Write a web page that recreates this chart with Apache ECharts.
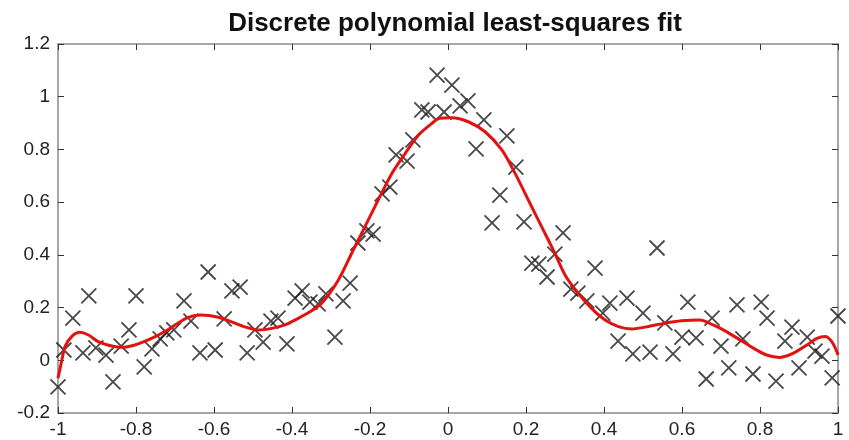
<!DOCTYPE html>
<html>
<head>
<meta charset="utf-8">
<script src="https://cdn.jsdelivr.net/npm/echarts@6/dist/echarts.min.js"></script>
<style>
  html, body { margin: 0; padding: 0; background: #fff; }
  #chart { width: 849px; height: 440px; }
</style>
</head>
<body>
<div id="chart"></div>
<script>
// sample points (x, y)
var sampleX = [-1.000, -0.985, -0.962, -0.936, -0.921, -0.903, -0.877, -0.859, -0.838, -0.818,
    -0.800, -0.779, -0.759, -0.738, -0.721, -0.703, -0.677, -0.659, -0.636, -0.615,
    -0.597, -0.574, -0.554, -0.533, -0.515, -0.495, -0.474, -0.454, -0.436, -0.413,
    -0.392, -0.374, -0.354, -0.333, -0.313, -0.290, -0.269, -0.251, -0.231, -0.208,
    -0.192, -0.169, -0.149, -0.133, -0.105, -0.090, -0.067, -0.051, -0.028, -0.010,
    0.010, 0.031, 0.051, 0.072, 0.092, 0.113, 0.133, 0.151, 0.174, 0.195,
    0.215, 0.233, 0.254, 0.274, 0.295, 0.315, 0.333, 0.356, 0.377, 0.397,
    0.415, 0.436, 0.459, 0.474, 0.500, 0.518, 0.536, 0.556, 0.577, 0.600,
    0.615, 0.636, 0.662, 0.677, 0.700, 0.720, 0.741, 0.756, 0.782, 0.803,
    0.818, 0.841, 0.864, 0.882, 0.900, 0.921, 0.941, 0.959, 0.985, 1.000];
var sampleY = [-0.101, 0.039, 0.160, 0.028, 0.244, 0.047, 0.020, -0.082, 0.054, 0.115,
    0.244, -0.025, 0.043, 0.081, 0.104, 0.115, 0.225, 0.149, 0.028, 0.335,
    0.039, 0.157, 0.263, 0.278, 0.028, 0.115, 0.069, 0.149, 0.160, 0.062,
    0.236, 0.263, 0.221, 0.214, 0.252, 0.088, 0.225, 0.293, 0.445, 0.491,
    0.479, 0.631, 0.657, 0.779, 0.756, 0.836, 0.950, 0.942, 1.082, 0.942,
    1.044, 0.965, 0.984, 0.802, 0.912, 0.521, 0.627, 0.851, 0.733, 0.525,
    0.369, 0.365, 0.316, 0.403, 0.483, 0.270, 0.255, 0.225, 0.350, 0.179,
    0.217, 0.073, 0.236, 0.024, 0.179, 0.031, 0.426, 0.142, 0.024, 0.088,
    0.221, 0.085, -0.071, 0.160, 0.054, -0.029, 0.210, 0.081, -0.052, 0.221,
    0.160, -0.079, 0.073, 0.126, -0.029, 0.088, 0.035, 0.016, -0.067, 0.168];

// fitted curve
var fitX = [-1.000, -0.990, -0.982, -0.965, -0.944, -0.922, -0.897, -0.862, -0.837, -0.803,
    -0.760, -0.726, -0.700, -0.666, -0.632, -0.589, -0.555, -0.521, -0.486, -0.452,
    -0.418, -0.384, -0.354, -0.324, -0.281, -0.247, -0.213, -0.179, -0.144, -0.110,
    -0.076, -0.042, -0.021, 0.009, 0.052, 0.095, 0.138, 0.172, 0.206, 0.240,
    0.274, 0.300, 0.334, 0.368, 0.403, 0.437, 0.471, 0.514, 0.556, 0.599,
    0.646, 0.680, 0.715, 0.749, 0.783, 0.817, 0.851, 0.886, 0.920, 0.946,
    0.967, 0.984, 0.997, 1.000];
var fitY = [-0.068, 0.001, 0.052, 0.090, 0.106, 0.096, 0.071, 0.054, 0.049, 0.058,
    0.083, 0.109, 0.134, 0.163, 0.172, 0.163, 0.146, 0.127, 0.115, 0.121,
    0.134, 0.159, 0.184, 0.216, 0.305, 0.406, 0.507, 0.608, 0.709, 0.784,
    0.854, 0.898, 0.918, 0.920, 0.905, 0.867, 0.798, 0.709, 0.608, 0.507,
    0.406, 0.324, 0.254, 0.197, 0.153, 0.128, 0.119, 0.128, 0.141, 0.150,
    0.153, 0.134, 0.108, 0.077, 0.046, 0.020, 0.011, 0.027, 0.058, 0.083,
    0.090, 0.071, 0.033, 0.020];

var xTicks = [-1, -0.8, -0.6, -0.4, -0.2, 0, 0.2, 0.4, 0.6, 0.8, 1];
var yTicks = [-0.2, 0, 0.2, 0.4, 0.6, 0.8, 1, 1.2];

var chart = echarts.init(document.getElementById('chart'), null, { renderer: 'canvas' });

var axisColor = '#8a8a8a';
var labelStyle = { color: '#222', fontSize: 19, fontFamily: 'Liberation Sans, Arial, sans-serif' };

function fmt(v) {
    return String(Math.round(v * 10) / 10);
}

var samples = [];
for (var i = 0; i < sampleX.length; i++) samples.push([sampleX[i], sampleY[i]]);
var fit = [];
for (var j = 0; j < fitX.length; j++) fit.push([fitX[j], fitY[j]]);

function xAxisDef(pos, showLabel) {
    return {
        type: 'value', position: pos, min: -1, max: 1, interval: 0.2,
        axisLine: { show: true, onZero: false, lineStyle: { color: axisColor, width: 1.5 } },
        axisTick: { show: true, inside: true, length: 6, lineStyle: { color: '#333', width: 1 } },
        axisLabel: Object.assign({ show: showLabel, margin: 7, formatter: fmt }, labelStyle),
        splitLine: { show: false }
    };
}
function yAxisDef(pos, showLabel) {
    return {
        type: 'value', position: pos, min: -0.2, max: 1.2, interval: 0.2,
        axisLine: { show: true, onZero: false, lineStyle: { color: axisColor, width: 1.5 } },
        axisTick: { show: true, inside: true, length: 6, lineStyle: { color: '#333', width: 1 } },
        axisLabel: Object.assign({ show: showLabel, margin: 8, formatter: fmt }, labelStyle),
        splitLine: { show: false }
    };
}

chart.setOption({
    animation: false,
    backgroundColor: '#fff',
    title: {
        text: 'Discrete polynomial least-squares fit',
        left: 450, top: 6, textAlign: 'center',
        textStyle: { fontSize: 26, fontWeight: 'bold', color: '#111', fontFamily: 'Liberation Sans, Arial, sans-serif' }
    },
    grid: { left: 58, right: 11, top: 44, bottom: 27, containLabel: false },
    xAxis: [xAxisDef('bottom', true), xAxisDef('top', false)],
    yAxis: [yAxisDef('left', true), yAxisDef('right', false)],
    series: [
        {
            type: 'scatter',
            data: samples,
            symbol: 'path://M0,0L10,10M10,0L0,10',
            symbolSize: 15,
            itemStyle: { color: 'rgba(0,0,0,0)', borderColor: '#1a1a1a', borderWidth: 1.8 },
            z: 2
        },
        {
            type: 'line',
            data: fit,
            showSymbol: false,
            smooth: 0.3,
            lineStyle: { color: '#e3110f', width: 3 },
            z: 3
        }
    ]
});
</script>
</body>
</html>
